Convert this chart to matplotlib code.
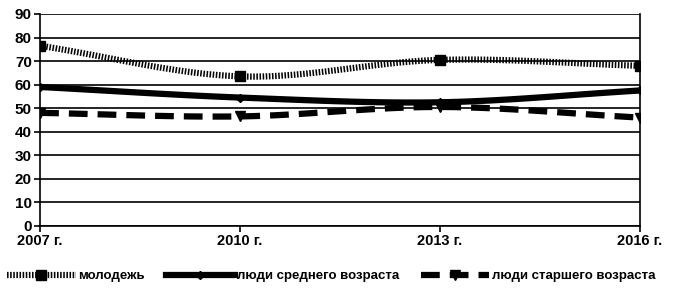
import numpy as np
import matplotlib.pyplot as plt

# данные
years = ["2007 г.", "2010 г.", "2013 г.", "2016 г."]
molodezh = [76.5, 63.5, 70.5, 68]
srednij = [59, 54.5, 52.5, 57.5]
starshij = [48, 46.5, 50.5, 46]
labels = ["молодежь", "люди среднего возраста", "люди старшего возраста"]

plt.rcParams['font.family'] = ['Liberation Sans', 'DejaVu Sans']
plt.rcParams['font.weight'] = 'bold'


def smooth(y, n=40):                     # сглаженная линия как в Excel (Catmull-Rom)
    y = np.asarray(y, dtype=float)
    x = np.arange(len(y), dtype=float)
    px = np.concatenate(([2 * x[0] - x[1]], x, [2 * x[-1] - x[-2]]))
    py = np.concatenate(([2 * y[0] - y[1]], y, [2 * y[-1] - y[-2]]))
    xs, ys = [], []
    for i in range(1, len(px) - 2):
        t = np.linspace(0, 1, n)
        for arr, out in ((px, xs), (py, ys)):
            p0, p1, p2, p3 = arr[i - 1], arr[i], arr[i + 1], arr[i + 2]
            out.extend(0.5 * (2 * p1 + (-p0 + p2) * t + (2 * p0 - 5 * p1 + 4 * p2 - p3) * t ** 2
                              + (-p0 + 3 * p1 - 3 * p2 + p3) * t ** 3))
    return np.array(xs), np.array(ys)


fig = plt.figure(figsize=(6.8, 3.04), dpi=100)
ax = fig.add_axes([0.059, 0.257, 0.882, 0.697])

x = np.arange(len(years))
series = [
    (molodezh, (0, (0.25, 0.25)), 's', 7),
    (srednij, '-', 'D', 4),
    (starshij, (0, (3, 1.6)), 'v', 7),
]
handles = []
for (vals, ls, mk, ms), lab in zip(series, labels):
    sx, sy = smooth(vals)
    ax.plot(sx, sy, color='black', lw=4.5, ls=ls, solid_capstyle='butt', dash_capstyle='butt')
    ax.plot(x, vals, ls='none', marker=mk, ms=ms, color='black')
    h, = ax.plot([], [], color='black', lw=4.5, ls=ls, marker=mk, ms=ms,
                 dash_capstyle='butt')
    handles.append(h)

ax.set_xlim(0, 3)
ax.set_ylim(0, 90)
ax.set_yticks(range(0, 91, 10))
ax.set_xticks(x)
ax.set_xticklabels(years)
ax.yaxis.grid(True, color='black', lw=1.2)
ax.set_axisbelow(True)
ax.spines['top'].set_visible(False)
for s in ['left', 'right', 'bottom']:
    ax.spines[s].set_linewidth(1.2)
ax.tick_params(axis='y', length=4, width=1.2, labelsize=11, pad=2)
ax.tick_params(axis='x', length=4, width=1.2, labelsize=10.5, pad=2)

fig.legend(handles, labels, loc='center', bbox_to_anchor=(0.487, 0.092), ncol=3,
           frameon=False, fontsize=9.5, handlelength=5.2, columnspacing=1.6,
           handletextpad=0.2)

fig.savefig('out.png', dpi=100)
